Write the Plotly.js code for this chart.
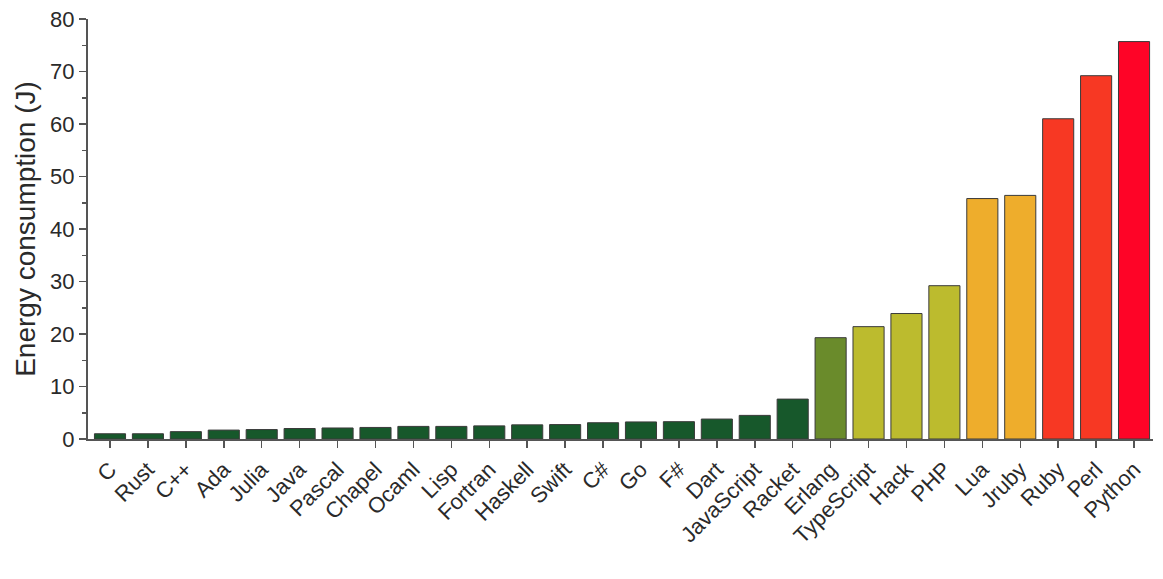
<!DOCTYPE html>
<html><head><meta charset="utf-8">
<script src="https://cdn.plot.ly/plotly-3.0.1.min.js"></script>
<style>html,body{margin:0;padding:0;background:#fff}#chart{width:1163px;height:579px}</style>
</head><body><div id="chart"></div>
<script>
const languages = ["C","Rust","C++","Ada","Julia","Java","Pascal","Chapel","Ocaml","Lisp","Fortran","Haskell","Swift","C#","Go","F#","Dart","JavaScript","Racket","Erlang","TypeScript","Hack","PHP","Lua","Jruby","Ruby","Perl","Python"];
const energy = [1.0,1.0,1.4,1.7,1.8,2.0,2.1,2.2,2.4,2.4,2.5,2.7,2.75,3.1,3.25,3.3,3.8,4.5,7.6,19.3,21.4,23.9,29.2,45.8,46.4,61.0,69.2,75.7];
const barColors = ["#17582b","#17582b","#17582b","#17582b","#17582b","#17582b","#17582b","#17582b","#17582b","#17582b","#17582b","#17582b","#17582b","#17582b","#17582b","#17582b","#17582b","#17582b","#17582b","#6a8b2b","#bcbb2e","#bcbb2e","#bcbb2e","#eead2c","#eead2c","#f73823","#f73823","#fe0427"];
const yTickValues = [0,10,20,30,40,50,60,70,80];

const trace = {
  type: "bar",
  x: languages,
  y: energy,
  marker: {color: barColors, line: {color: "#3a3a3a", width: 1}},
  width: 0.82,
  hoverinfo: "x+y"
};
const layout = {
  width: 1163, height: 579,
  margin: {l: 88, r: 10, t: 19, b: 140},
  paper_bgcolor: "#fff", plot_bgcolor: "#fff",
  font: {family: "Liberation Sans, Arial, sans-serif", color: "#2a2a2a"},
  showlegend: false,
  xaxis: {
    type: "category",
    range: [-0.58, 27.5],
    tickangle: -45,
    ticks: "outside", ticklen: 7, tickwidth: 1.5, tickcolor: "#555",
    showline: true, linecolor: "#555", linewidth: 2,
    showgrid: false, zeroline: false,
    tickfont: {size: 22, color: "#2a2a2a"}
  },
  yaxis: {
    range: [0, 80],
    tickvals: yTickValues,
    ticks: "outside", ticklen: 7, tickwidth: 1.5, tickcolor: "#555",
    minor: {dtick: 5, ticks: "outside", ticklen: 4, tickwidth: 1.5, tickcolor: "#555", showgrid: false},
    showline: true, linecolor: "#555", linewidth: 2,
    showgrid: false, zeroline: false,
    tickfont: {size: 22, color: "#2a2a2a"},
    title: {text: "Energy consumption (J)", font: {size: 28, color: "#2a2a2a"}, standoff: 6}
  }
};
Plotly.newPlot("chart", [trace], layout, {displayModeBar: false, staticPlot: true});
</script>
</body></html>
